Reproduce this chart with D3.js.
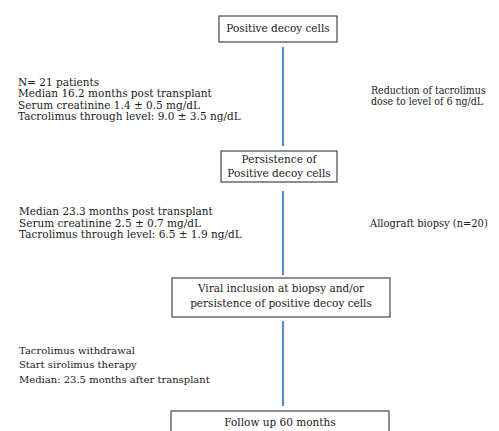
<!DOCTYPE html>
<html>
<head>
<meta charset="utf-8">
<script src="https://cdn.jsdelivr.net/npm/d3@7"></script>
<style>
  body { margin: 0; background: #fff; }
  text { font-family: "DejaVu Serif", serif; fill: #1a1a1a; }
  text.narrow { font-family: "DejaVu Serif Condensed", "DejaVu Serif", serif; }
</style>
</head>
<body>
<div id="chart"></div>
<script>
// flow steps (box labels)
const steps = [
  ["Positive decoy cells"],
  ["Persistence of", "Positive decoy cells"],
  ["Viral inclusion at biopsy and/or", "persistence of positive decoy cells"],
  ["Follow up 60 months"]
];
// notes on the left of each link
const leftNotes = [
  ["N= 21 patients", "Median 16.2 months post transplant", "Serum creatinine 1.4 \u00b1 0.5 mg/dL", "Tacrolimus through level: 9.0 \u00b1 3.5 ng/dL"],
  ["Median 23.3 months post transplant", "Serum creatinine 2.5 \u00b1 0.7 mg/dL", "Tacrolimus through level: 6.5 \u00b1 1.9 ng/dL"],
  ["Tacrolimus withdrawal", "Start sirolimus therapy", "Median: 23.5 months after transplant"]
];
// notes on the right of each link
const rightNotes = [
  ["Reduction of tacrolimus", "dose to level of 6 ng/dL"],
  ["Allograft biopsy (n=20)"],
  []
];

const drawChart = () => {
  const width = 499;
  const height = 431;
  const cx = 283;

  // box geometry (mid = centre of the label block, lh = line gap)
  const boxes = [
    { x0: 219, x1: 337, y0: 16, y1: 42, mid: 28, lh: 14 },
    { x0: 221, x1: 337, y0: 151, y1: 182, mid: 166.5, lh: 13.5 },
    { x0: 172, x1: 390, y0: 278, y1: 317, mid: 296, lh: 14.5 },
    { x0: 171, x1: 389, y0: 411, y1: 440, mid: 422, lh: 14 }
  ];
  const links = [
    { y0: 47, y1: 146 },
    { y0: 191, y1: 275 },
    { y0: 321, y1: 406 }
  ];
  const leftPos = [
    { x: 18, y: 82, dy: 11.5, size: 10.5 },
    { x: 19, y: 211.5, dy: 11.5, size: 10.5 },
    { x: 19, y: 350, dy: 14.5, size: 10 }
  ];
  const rightPos = [
    { x: 371, y: 90, dy: 11.5, size: 10.5, cls: "narrow" },
    { x: 370, y: 223, dy: 11.5, size: 11, cls: "narrow" }
  ];

  const svg = d3
    .select("#chart")
    .append("svg")
    .attr("width", width)
    .attr("height", height);

  svg
    .selectAll("line.link")
    .data(links)
    .enter()
    .append("line")
    .attr("class", "link")
    .attr("x1", cx)
    .attr("x2", cx)
    .attr("y1", (d) => d.y0)
    .attr("y2", (d) => d.y1)
    .attr("stroke", "#5b8cc4")
    .attr("stroke-width", 2.2);

  const box = svg
    .selectAll("g.box")
    .data(steps)
    .enter()
    .append("g")
    .attr("class", "box");

  box
    .append("rect")
    .attr("x", (d, i) => boxes[i].x0)
    .attr("y", (d, i) => boxes[i].y0)
    .attr("width", (d, i) => boxes[i].x1 - boxes[i].x0)
    .attr("height", (d, i) => boxes[i].y1 - boxes[i].y0)
    .attr("fill", "#fff")
    .attr("stroke", "#444")
    .attr("stroke-width", 1.2);

  box.each(function (d, i) {
    const b = boxes[i];
    d3.select(this)
      .selectAll("text")
      .data(d)
      .enter()
      .append("text")
      .attr("x", (b.x0 + b.x1) / 2)
      .attr("y", (t, j) => b.mid + (j - (d.length - 1) / 2) * b.lh)
      .attr("dy", "0.35em")
      .attr("text-anchor", "middle")
      .style("font-size", "10.5px")
      .text((t) => t);
  });

  const notes = (list, pos) => {
    list.forEach((lines, i) => {
      if (!lines.length) return;
      const p = pos[i];
      svg
        .append("g")
        .selectAll("text")
        .data(lines)
        .enter()
        .append("text")
        .attr("class", p.cls || null)
        .attr("x", p.x)
        .attr("y", (t, j) => p.y + j * p.dy)
        .attr("dy", "0.35em")
        .style("font-size", p.size + "px")
        .text((t) => t);
    });
  };

  notes(leftNotes, leftPos);
  notes(rightNotes, rightPos);
};

drawChart();
</script>
</body>
</html>
